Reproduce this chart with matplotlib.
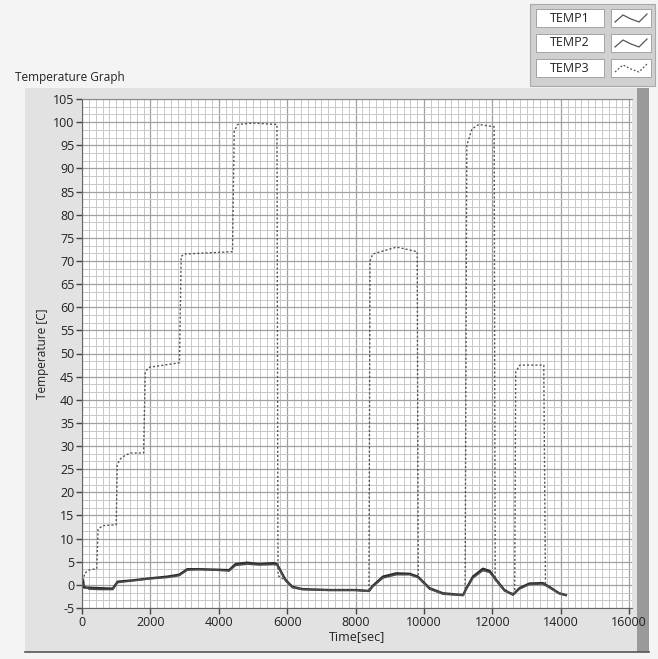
import numpy as np
import matplotlib
matplotlib.use('Agg')
import matplotlib.pyplot as plt
from matplotlib.ticker import MultipleLocator
from matplotlib.patches import Rectangle
from matplotlib.lines import Line2D

plt.rcParams['font.family'] = ['Open Sans', 'DejaVu Sans']
plt.rcParams['axes.unicode_minus'] = False

# TEMP1 / TEMP2 (solid, near the bottom)
t_low = [0, 30, 60, 200, 500, 900, 1040, 1500, 1965, 2500, 2840, 3080, 3420, 3900, 4300,
         4490, 4830, 5175, 5610, 5700, 5950, 6150, 6440, 7220, 8000, 8390, 8500, 8800,
         9190, 9580, 9820, 10160, 10550, 11140, 11240, 11430, 11720, 11920, 12110, 12350,
         12600, 12790, 13080, 13470, 13660, 13950, 14150]
temp1 = [0.5, 1.2, -0.6, -0.6, -0.7, -0.8, 0.7, 1.0, 1.4, 1.8, 2.2, 3.4, 3.4, 3.3, 3.2,
         4.5, 4.8, 4.5, 4.7, 4.5, 1.1, -0.4, -0.9, -1.1, -1.1, -1.3, -0.2, 1.8,
         2.5, 2.4, 1.8, -0.7, -1.8, -2.2, -0.7, 1.8, 3.5, 3.0, 1.1, -1.1,
         -2.1, -0.7, 0.3, 0.4, -0.4, -1.8, -2.2]
temp2 = [-0.2, 0.2, -0.2, -0.9, -1.0, -1.0, 0.5, 0.9, 1.3, 1.6, 2.0, 3.2, 3.3, 3.2, 3.0,
         4.2, 4.5, 4.3, 4.4, 4.3, 0.9, -0.6, -1.0, -1.2, -1.2, -1.4, -0.4, 1.5,
         2.2, 2.2, 1.6, -0.9, -2.0, -2.3, -0.9, 1.5, 3.1, 2.7, 0.9, -1.3,
         -2.2, -0.9, 0.1, 0.2, -0.6, -1.9, -2.3]

# TEMP3 (dotted, stepped)
t_hot = [0, 80, 200, 430, 470, 600, 1000, 1030, 1150, 1400, 1800, 1850, 1950, 2850,
         2900, 3000, 4400, 4450, 4550, 5000, 5700, 5730, 5950, 6150, 6440, 7220, 8000,
         8390, 8420, 8500, 9200, 9800, 9830, 10160, 10550, 11200, 11250, 11400, 11600,
         12050, 12080, 12350, 12650, 12680, 12800, 13500, 13550, 13660, 13950, 14150]
temp3 = [0, 2.5, 3.2, 3.5, 12.0, 12.8, 13.0, 26.0, 27.5, 28.5, 28.5, 46.0, 47.0, 48.0,
         71.0, 71.5, 72.0, 98.0, 99.5, 99.8, 99.5, 2.0, 0.9, -0.5, -1.0, -1.1, -1.1,
         -1.3, 70.0, 71.5, 73.0, 72.0, 1.5, -0.8, -1.9, -2.1, 95.0, 98.5, 99.5,
         99.0, 1.0, -1.2, -2.0, 46.0, 47.5, 47.5, 0.2, -0.5, -1.8, -2.2]

fig = plt.figure(figsize=(6.58, 6.59), dpi=100)
fig.patch.set_facecolor('#f4f4f4')

# LabVIEW panel frame
fig.patches.append(Rectangle((25/658, 1-652/659), 620/658, 564/659, transform=fig.transFigure,
                             facecolor='#e2e2e2', edgecolor='none', zorder=0))
fig.patches.append(Rectangle((637/658, 1-652/659), 12/658, 564/659, transform=fig.transFigure,
                             facecolor='#9a9a9a', edgecolor='none', zorder=0))
fig.lines.append(Line2D([25/658, 649/658], [1-652/659, 1-652/659], transform=fig.transFigure,
                        color='#555555', lw=1.2))

ax = fig.add_axes([82/658, 1-608/659, 550/658, 509/659])
ax.set_zorder(5)
ax.set_facecolor('white')
ax.plot(t_low, temp1, color='#2a2a2a', lw=1.6)
ax.plot(t_low, temp2, color='#4a4a4a', lw=1.2)
ax.plot(t_hot, temp3, color='#555555', lw=1.0, linestyle=(0, (1.5, 1.5)))

ax.set_xlim(0, 16080)
ax.set_ylim(-5, 105)
ax.xaxis.set_major_locator(MultipleLocator(2000))
ax.xaxis.set_minor_locator(MultipleLocator(200))
ax.yaxis.set_major_locator(MultipleLocator(5))
ax.yaxis.set_minor_locator(MultipleLocator(5/3))
ax.grid(which='major', color='#a0a0a0', lw=0.9)
ax.grid(which='minor', color='#c8c8c8', lw=0.7)
ax.set_axisbelow(True)
ax.tick_params(which='minor', length=0)
ax.tick_params(which='major', length=4, width=1, color='#444444', labelsize=9, labelcolor='#222222', pad=1.5)
ax.spines['right'].set_visible(False)
ax.spines['top'].set_color('#888888')
ax.spines['left'].set_color('#666666')
ax.spines['bottom'].set_color('#666666')

ax.set_xlabel('Time[sec]', fontsize=9, color='#222222', labelpad=1)
ax.set_ylabel('Temperature [C]', fontsize=8.5, color='#222222', labelpad=3)
fig.text(15/658, 1-78/659, 'Temperature Graph', fontsize=8.5, color='#222222', va='center')

# legend block top right
fig.patches.append(Rectangle((530/658, 1-86/659), 125/658, 82/659, transform=fig.transFigure,
                             facecolor='#d0d0d0', edgecolor='#aaaaaa', lw=0.8, zorder=1))
names = ['TEMP1', 'TEMP2', 'TEMP3']
for i, name in enumerate(names):
    yc = 1 - (18 + i * 25) / 659
    fig.patches.append(Rectangle((536/658, yc - 9/659), 68/658, 18/659, transform=fig.transFigure,
                                 facecolor='white', edgecolor='#999999', lw=0.6, zorder=2))
    fig.text(570/658, yc, name, fontsize=9, ha='center', va='center', color='#222222', zorder=3)
    fig.patches.append(Rectangle((611/658, yc - 9/659), 40/658, 18/659, transform=fig.transFigure,
                                 facecolor='white', edgecolor='#999999', lw=0.6, zorder=2))
    sx = np.array([615, 623, 631, 639, 647]) / 658
    sy = yc + np.array([-4, 3, -1, -4, 4]) / 659
    ls = '-' if i < 2 else (0, (1.5, 1.5))
    fig.lines.append(Line2D(sx, sy, transform=fig.transFigure, color='#555555',
                            lw=0.9, linestyle=ls, zorder=4))

fig.savefig('out.png', dpi=100)
